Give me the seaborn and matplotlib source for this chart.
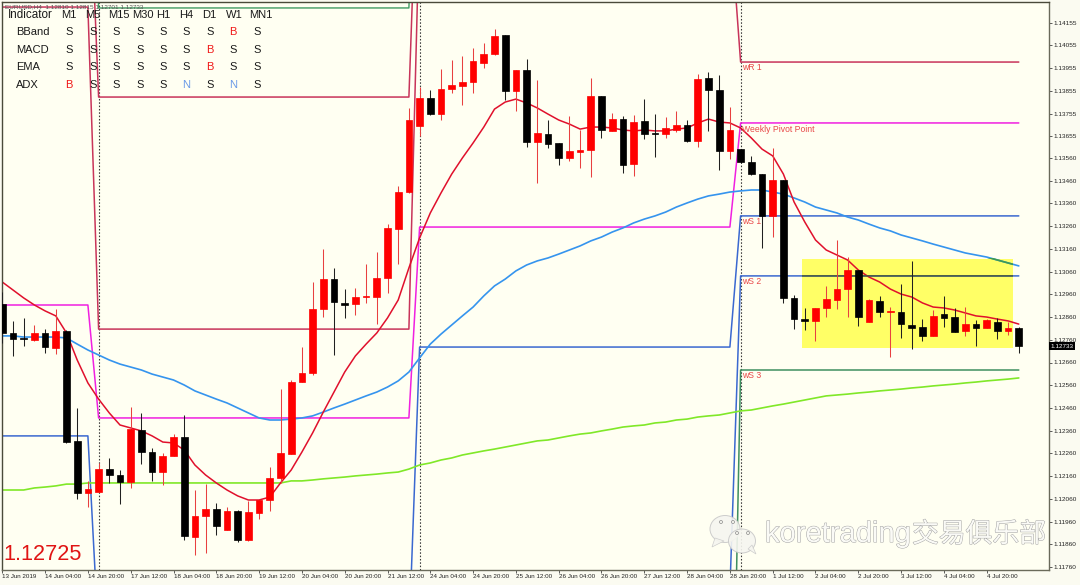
import numpy as np
import pandas as pd
import matplotlib
matplotlib.use("Agg")
import matplotlib.pyplot as plt
import matplotlib.patheffects as pe
from matplotlib.patches import Ellipse, Polygon, Rectangle
import seaborn as sns

opens = [1.12917,1.12790,1.12768,1.12759,1.12790,1.12724,1.12799,1.12314,1.12086,1.12090,1.12191,1.12165,1.12134,1.12363,1.12266,1.12178,
1.12249,1.12332,1.11892,1.11985,1.12015,1.11923,1.12007,1.11879,1.11998,1.12055,1.12152,1.12257,1.12574,1.12614,1.12895,1.13027,
1.12922,1.12917,1.12948,1.12948,1.13032,1.13247,1.13410,1.13701,1.13824,1.13753,1.13863,1.13877,1.13894,1.13978,1.14017,1.14101,
1.13855,1.13947,1.13630,1.13665,1.13626,1.13560,1.13586,1.13595,1.13833,1.13679,1.13731,1.13533,1.13723,1.13670,1.13665,1.13683,
1.13705,1.13635,1.13912,1.13859,1.13591,1.13599,1.13542,1.13489,1.13305,1.13463,1.12944,1.12851,1.12843,1.12900,1.12935,1.12983,
1.13067,1.12838,1.12931,1.12882,1.12882,1.12825,1.12816,1.12777,1.12873,1.12860,1.12799,1.12829,1.12812,1.12838,1.12799,1.12812]
closes = [1.12790,1.12763,1.12763,1.12790,1.12728,1.12799,1.12310,1.12086,1.12103,1.12191,1.12165,1.12134,1.12367,1.12266,1.12178,1.12249,
1.12332,1.11897,1.11985,1.12015,1.11941,1.12007,1.11879,1.12002,1.12055,1.12152,1.12262,1.12574,1.12614,1.12895,1.13027,1.12926,
1.12913,1.12948,1.12953,1.13032,1.13252,1.13410,1.13727,1.13824,1.13753,1.13863,1.13881,1.13894,1.13987,1.14017,1.14097,1.13855,
1.13947,1.13630,1.13670,1.13621,1.13560,1.13591,1.13595,1.13833,1.13683,1.13731,1.13529,1.13718,1.13665,1.13665,1.13692,1.13705,
1.13635,1.13907,1.13859,1.13591,1.13683,1.13542,1.13489,1.13305,1.13463,1.12944,1.12851,1.12843,1.12900,1.12939,1.12983,1.13067,
1.12860,1.12935,1.12882,1.12887,1.12829,1.12812,1.12777,1.12865,1.12856,1.12794,1.12829,1.12812,1.12847,1.12799,1.12812,1.12733]
highs = [1.12970,1.12843,1.12856,1.12825,1.12807,1.12895,1.12803,1.12460,1.12139,1.12218,1.12240,1.12187,1.12464,1.12438,1.12284,1.12262,
1.12345,1.12429,1.12099,1.12125,1.12042,1.12024,1.12011,1.12051,1.12055,1.12200,1.12543,1.12583,1.12728,1.13014,1.13159,1.13076,
1.12983,1.12988,1.13093,1.13146,1.13269,1.13437,1.13780,1.13872,1.13859,1.13951,1.13991,1.14009,1.14044,1.14066,1.14127,1.14101,
1.13947,1.13995,1.13903,1.13727,1.13626,1.13745,1.13683,1.13912,1.13833,1.13758,1.13745,1.13749,1.13819,1.13753,1.13740,1.13767,
1.13727,1.13929,1.13938,1.13925,1.13784,1.13599,1.13569,1.13489,1.13604,1.13463,1.12957,1.12900,1.12900,1.12997,1.13199,1.13124,
1.13067,1.12939,1.12953,1.12904,1.13005,1.13107,1.12851,1.12891,1.12953,1.12900,1.12904,1.12847,1.12851,1.12856,1.12838,1.12816]
lows = [1.12746,1.12689,1.12733,1.12755,1.12702,1.12697,1.12306,1.12059,1.12024,1.12090,1.12130,1.12037,1.12108,1.12213,1.12139,1.12121,
1.12249,1.11879,1.11813,1.11822,1.11901,1.11923,1.11870,1.11875,1.11971,1.12007,1.12130,1.12257,1.12574,1.12605,1.12860,1.12693,
1.12856,1.12869,1.12922,1.12829,1.12966,1.13093,1.13406,1.13657,1.13749,1.13727,1.13846,1.13793,1.13846,1.13956,1.14013,1.13815,
1.13767,1.13608,1.13450,1.13604,1.13529,1.13547,1.13516,1.13476,1.13648,1.13679,1.13494,1.13481,1.13643,1.13564,1.13648,1.13674,
1.13630,1.13608,1.13679,1.13507,1.13555,1.13538,1.13485,1.13164,1.13212,1.12922,1.12807,1.12803,1.12755,1.12860,1.12895,1.12860,
1.12821,1.12838,1.12860,1.12684,1.12768,1.12719,1.12755,1.12777,1.12816,1.12794,1.12777,1.12733,1.12812,1.12763,1.12781,1.12702]

ma_fast = [1.13014,1.12979,1.12944,1.12913,1.12887,1.12865,1.12790,1.12671,1.12570,1.12499,1.12438,1.12385,1.12372,1.12359,1.12337,1.12310,
1.12306,1.12275,1.12209,1.12165,1.12130,1.12099,1.12073,1.12055,1.12055,1.12068,1.12130,1.12187,1.12266,1.12350,1.12442,1.12530,
1.12618,1.12689,1.12741,1.12790,1.12856,1.12935,1.13076,1.13208,1.13318,1.13406,1.13489,1.13560,1.13626,1.13696,1.13775,1.13806,
1.13819,1.13802,1.13780,1.13753,1.13727,1.13709,1.13687,1.13696,1.13696,1.13692,1.13683,1.13679,1.13683,1.13679,1.13679,1.13687,
1.13692,1.13714,1.13731,1.13718,1.13714,1.13692,1.13648,1.13599,1.13569,1.13489,1.13366,1.13278,1.13199,1.13155,1.13133,1.13111,
1.13067,1.13036,1.13014,1.12983,1.12961,1.12948,1.12922,1.12904,1.12900,1.12891,1.12878,1.12865,1.12860,1.12851,1.12843,1.12829]
ma_mid = [1.12777,1.12777,1.12772,1.12772,1.12772,1.12772,1.12768,1.12741,1.12715,1.12693,1.12671,1.12653,1.12640,1.12627,1.12609,1.12596,
1.12583,1.12561,1.12535,1.12517,1.12499,1.12482,1.12460,1.12438,1.12416,1.12407,1.12407,1.12411,1.12416,1.12425,1.12442,1.12460,
1.12477,1.12495,1.12513,1.12530,1.12552,1.12579,1.12618,1.12680,1.12741,1.12785,1.12825,1.12865,1.12904,1.12953,1.12997,1.13027,
1.13063,1.13089,1.13107,1.13120,1.13137,1.13155,1.13173,1.13195,1.13212,1.13234,1.13252,1.13274,1.13291,1.13305,1.13322,1.13344,
1.13362,1.13379,1.13393,1.13401,1.13410,1.13415,1.13419,1.13419,1.13410,1.13401,1.13384,1.13366,1.13344,1.13331,1.13318,1.13300,
1.13287,1.13269,1.13252,1.13239,1.13221,1.13208,1.13195,1.13181,1.13168,1.13155,1.13142,1.13133,1.13124,1.13111,1.13098,1.13085]
ma_slow = [1.12099,1.12099,1.12099,1.12108,1.12112,1.12117,1.12125,1.12125,1.12130,1.12130,1.12130,1.12130,1.12130,1.12130,1.12130,1.12130,
1.12130,1.12130,1.12130,1.12130,1.12130,1.12130,1.12130,1.12130,1.12130,1.12130,1.12130,1.12139,1.12139,1.12143,1.12148,1.12152,
1.12156,1.12161,1.12165,1.12169,1.12174,1.12178,1.12191,1.12209,1.12218,1.12231,1.12240,1.12253,1.12262,1.12271,1.12279,1.12288,
1.12297,1.12306,1.12315,1.12319,1.12328,1.12337,1.12345,1.12350,1.12359,1.12367,1.12376,1.12381,1.12385,1.12394,1.12398,1.12407,
1.12411,1.12420,1.12425,1.12429,1.12438,1.12447,1.12451,1.12460,1.12469,1.12477,1.12486,1.12495,1.12504,1.12513,1.12517,1.12521,
1.12526,1.12530,1.12535,1.12539,1.12543,1.12548,1.12552,1.12557,1.12561,1.12565,1.12570,1.12574,1.12579,1.12583,1.12587,1.12592]

# weekly pivot levels, one value per week shown (weeks hold 9, 30, 30, 27 bars)
week_bars = [9, 30, 30, 27]
pivot_levels = [1.12913, 1.12416, 1.13256, 1.13714]
s1_levels = [1.12337, 1.11443, 1.12728, 1.13305]
s2_levels = [1.10735, 1.10735, 1.11659, 1.13041]
s3_levels = [1.10273, 1.10273, 1.10273, 1.12627]
r1_levels = [1.14224, 1.12807, 1.14625, 1.13982]
r2_levels = [1.14972, 1.13828, 1.15157, 1.15157]
r3_levels = [1.15575, 1.14220, 1.15575, 1.15575]

y_ticks = [1.14155,1.14055,1.13955,1.13855,1.13755,1.13655,1.13560,1.13460,1.13360,1.13260,1.13160,1.13060,1.12960,
           1.12860,1.12760,1.12660,1.12560,1.12460,1.12360,1.12260,1.12160,1.12060,1.11960,1.11860,1.11760]
x_labels = ["13 Jun 2019","14 Jun 04:00","14 Jun 20:00","17 Jun 12:00","18 Jun 04:00","18 Jun 20:00","19 Jun 12:00","20 Jun 04:00",
            "20 Jun 20:00","21 Jun 12:00","24 Jun 04:00","24 Jun 20:00","25 Jun 12:00","26 Jun 04:00","26 Jun 20:00","27 Jun 12:00",
            "28 Jun 04:00","28 Jun 20:00","1 Jul 12:00","2 Jul 04:00","2 Jul 20:00","3 Jul 12:00","4 Jul 04:00","4 Jul 20:00"]
table_cols = ["M1","M5","M15","M30","H1","H4","D1","W1","MN1"]
table_rows = ["BBand","MACD","EMA","ADX"]
table_vals = [list("SSSSSSSBS"), list("SSSSSSBSS"), list("SSSSSSBSS"), list("BSSSSNSNS")]

BG = "#fffff2"
sns.set_theme(style="white")
plt.rcParams["font.family"] = ["Liberation Sans", "Noto Sans CJK SC"]

W, H = 1080, 585
fig = plt.figure(figsize=(W/100, H/100), dpi=100, facecolor="#fbfbf1")
L, R, T, B = 1.5, 1048.7, 1.5, 569.5
ax = fig.add_axes([L/W, 1-B/H, (R-L)/W, (B-T)/H], facecolor=BG)
ax.set_xlim((L-2.3)/10.7, (R-2.3)/10.7)
ax.set_ylim(1.117492, 1.142484)

bars = np.arange(len(opens))
o, c, h, l = map(np.array, (opens, closes, highs, lows))
up = c >= o

zone = Rectangle((74.7, 1.12724), 19.8, 1.13115-1.12724, facecolor="#ffff66", edgecolor="none", zorder=0.5)
ax.add_patch(zone)

def draw(values, color, lw):
    sns.lineplot(x=bars, y=values, color=color, lw=lw, ax=ax, estimator=None, zorder=2, legend=False)
    return ax.lines[-1]

draw(np.repeat(r3_levels, week_bars), "#3f9a62", 1.0)
draw(np.repeat(r2_levels, week_bars), "#c8345a", 1.1)
draw(np.repeat(r1_levels, week_bars), "#c8345a", 1.1)
draw(np.repeat(s3_levels, week_bars), "#3f8f60", 1.1)
draw(np.repeat(s2_levels, week_bars), "#3a68d0", 1.1)
draw(np.repeat(s1_levels, week_bars), "#3a68d0", 1.1)
draw(np.repeat(pivot_levels, week_bars), "#f020e0", 1.1)
draw(ma_slow, "#80e828", 1.2)
draw(ma_mid, "#3594ee", 1.2)
draw(ma_fast, "#e0102c", 1.1)
# lines read darker where they cross the highlighted zone
draw(np.repeat(s2_levels, week_bars), "#4a5a3a", 1.1).set_clip_path(zone)
draw(ma_mid, "#3f9a50", 1.2).set_clip_path(Rectangle((90, 1.13), 4.5, 0.0012, transform=ax.transData))

for wk in np.cumsum(week_bars)[:-1]:
    ax.axvline(wk, color="#3a3a3a", lw=0.8, ls=(0, (1.4, 1.6)), zorder=1.5)

ax.vlines(bars[up], l[up], h[up], color="#e84040", lw=0.75, zorder=3)
ax.vlines(bars[~up], l[~up], h[~up], color="#202020", lw=0.75, zorder=3)
ax.bar(bars[up], (c-o)[up], bottom=o[up], width=0.62, color="#ff0000", edgecolor="#ff0000", lw=0.5, zorder=4)
ax.bar(bars[~up], (o-c)[~up], bottom=c[~up], width=0.62, color="#000000", edgecolor="#000000", lw=0.5, zorder=4)

ax.yaxis.tick_right()
ax.set_yticks(y_ticks)
ax.set_yticklabels([f"{v:.5f}" for v in y_ticks], fontsize=4.6, color="#222222")
ax.set_xticks(np.arange(len(x_labels))*4)
ax.set_xticklabels(x_labels, fontsize=4.5, color="#222222", ha="left")
ax.tick_params(axis="y", length=2.4, width=0.6, color="#404040", pad=1.2, right=True)
ax.tick_params(axis="x", length=2.4, width=0.6, color="#404040", pad=1.2, bottom=True)
ax.set_xlabel(""); ax.set_ylabel("")
for side, col in (("top", "#4a4a3a"), ("left", "#4a4a3a"), ("right", "#6a6a5a"), ("bottom", "#6a6a5a")):
    ax.spines[side].set_visible(True)
    ax.spines[side].set_color(col)
    ax.spines[side].set_linewidth(1.0)

# overlay in pixel coordinates for the chart's annotations
ov = fig.add_axes([0, 0, 1, 1], facecolor="none")
ov.set_xlim(0, W); ov.set_ylim(H, 0); ov.axis("off")

ov.text(5, 6.5, "EURUSD,H4  1.12810 1.12815 1.12701 1.12733", fontsize=4.6, color="#555555", va="center")
ov.text(8, 15, "Indicator", fontsize=8.4, color="#1a1a1a", va="center", fontweight="normal")
col_x = [69, 93, 119, 143, 163, 186, 209, 234, 261]
val_x = [69, 93, 116, 140, 163, 186, 210, 233, 257]
for x, t in zip(col_x, table_cols):
    ov.text(x, 15, t, fontsize=8, color="#1a1a1a", ha="center", va="center")
colmap = {"S": "#1a1a1a", "B": "#f01818", "N": "#6a9ae8"}
for ry, name, vals in zip([32, 50, 67, 85], table_rows, table_vals):
    ov.text(16, ry, name, fontsize=8, color="#1a1a1a", va="center")
    for x, v in zip(val_x, vals):
        ov.text(x, ry, v, fontsize=8, color=colmap[v], ha="center", va="center")

ov.text(3, 555, "1.12725", fontsize=15.6, color="#e01414", va="center")

for y, t in [(68, "wR 1"), (129, "Weekly Pivot Point"), (221, "wS 1"), (282, "wS 2"), (376, "wS 3")]:
    ov.text(742, y, t, fontsize=6.2, color="#e84848", va="center")

ov.text(1050.5, 346, "1.12733", fontsize=4.6, color="white", va="center", zorder=5,
        bbox=dict(boxstyle="square,pad=0.22", facecolor="black", edgecolor="none"))

# watermark
wm_latin = ov.text(765, 534, "koretrading", fontsize=21, color="#fafaf6", va="center")
wm_cjk = ov.text(912, 535, "交易俱乐部", fontsize=19.3, color="#fafaf6", va="center")
for wm in (wm_latin, wm_cjk):
    wm.set_path_effects([pe.withStroke(linewidth=0.7, foreground="#a4a4a4")])
for cx, cy, w_, h_, tail in [(725, 529, 30, 27, [(715, 538), (712, 547), (724, 541)]),
                             (742, 541, 27, 24, [(748, 549), (756, 554), (752, 545)])]:
    ov.add_patch(Ellipse((cx, cy), w_, h_, facecolor="#f6f6f0", edgecolor="#c8c8c8", lw=0.7, alpha=0.9, zorder=6))
    ov.add_patch(Polygon(tail, closed=True, facecolor="#f6f6f0", edgecolor="#c8c8c8", lw=0.5, alpha=0.9, zorder=6))
for ex, ey in [(721, 522), (733, 522), (737, 533), (748, 533)]:
    ov.add_patch(Ellipse((ex, ey), 3, 3, facecolor="#f6f6f0", edgecolor="#8a8a8a", lw=0.5, zorder=7))

fig.savefig("out.png", dpi=100, facecolor=fig.get_facecolor())
